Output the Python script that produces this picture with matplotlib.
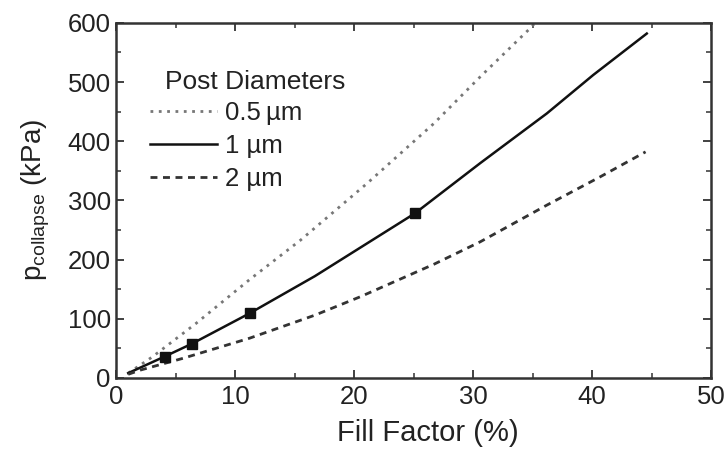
import matplotlib.pyplot as plt
from matplotlib.ticker import MultipleLocator

plt.rcParams["font.family"] = ["Liberation Sans", "DejaVu Sans"]

# 0.5 um posts (dotted)
x_05 = [1, 3, 6.7, 11.2, 15.5, 21.1, 26.7, 30.6, 34.8, 35.2]
y_05 = [8, 35, 92, 166, 233, 329, 430, 509, 591, 600]

# 1 um posts (solid)
x_1 = [1, 4.06, 6.39, 11.2, 16.7, 25.1, 30.6, 36.2, 40.1, 44.6]
y_1 = [8, 36, 58, 109, 172, 278, 363, 447, 512, 582]

# measured points on the 1 um curve
mx_1 = [4.06, 6.39, 11.2, 25.1]
my_1 = [36, 58, 109, 278]

# 2 um posts (dashed)
x_2 = [1, 2, 5.6, 11.2, 16.7, 20.5, 26.7, 30.6, 36.2, 40.7, 44.5]
y_2 = [6, 13, 33, 67, 106, 137, 192, 230, 292, 340, 382]

labels = ["0.5\u2009\u00b5m", "1 \u00b5m", "2 \u00b5m"]
txt = "#222222"

fig = plt.figure(figsize=(7.27, 4.58), dpi=100)
ax = fig.add_axes([0.160, 0.175, 0.818, 0.775])

ax.plot(x_05, y_05, color="#777777", linestyle=(0, (1, 2)), linewidth=2, label=labels[0])
ax.plot(x_1, y_1, color="#111111", linestyle="-", linewidth=1.8, label=labels[1])
ax.plot(x_2, y_2, color="#333333", linestyle=(0, (2.5, 2)), linewidth=2, label=labels[2])
ax.plot(mx_1, my_1, linestyle="none", marker="s", markersize=7, color="#111111")

ax.set_xlim(0, 50)
ax.set_ylim(0, 600)
ax.xaxis.set_major_locator(MultipleLocator(10))
ax.xaxis.set_minor_locator(MultipleLocator(5))
ax.yaxis.set_major_locator(MultipleLocator(100))
ax.yaxis.set_minor_locator(MultipleLocator(50))
ax.tick_params(which="both", direction="in", top=True, right=True,
               labelsize=18.5, labelcolor=txt, color="#333333")
ax.tick_params(which="major", length=6, width=1.3)
ax.tick_params(which="minor", length=3.5, width=1.1)
ax.tick_params(axis="x", pad=5.5)
ax.tick_params(axis="y", pad=4)
for s in ax.spines.values():
    s.set_linewidth(1.8)
    s.set_color("#333333")

ax.set_xlabel("Fill Factor (%)", fontsize=21, color=txt, labelpad=7)
ax.xaxis.label.set_x(0.524)
ax.set_ylabel(r"p$_{\mathregular{collapse}}$ (kPa)", fontsize=20,
              color=txt, labelpad=11)

ax.text(0.082, 0.814, "Post Diameters", transform=ax.transAxes,
        fontsize=19, color=txt, ha="left", va="baseline")
leg = ax.legend(loc="upper left", bbox_to_anchor=(0.057, 0.781),
                borderaxespad=0, borderpad=0, frameon=False, fontsize=18.5,
                handlelength=2.6, handletextpad=0.3, labelspacing=0.36)
for t in leg.get_texts():
    t.set_color(txt)

fig.savefig("out.png", dpi=100)
